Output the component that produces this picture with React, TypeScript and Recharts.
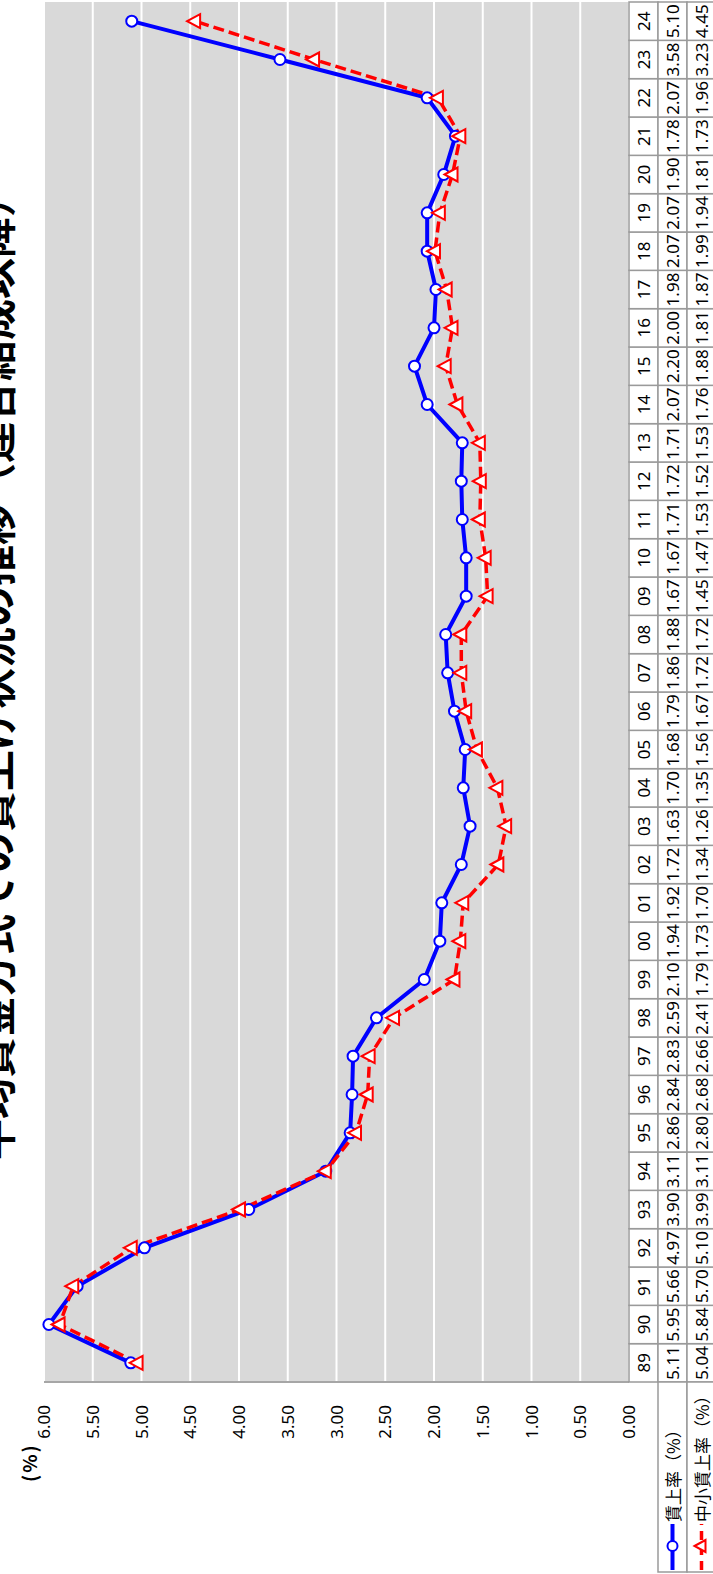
import { LineChart, Line, XAxis, YAxis, CartesianGrid } from "recharts";

const YEARS = [
  "89", "90", "91", "92", "93", "94", "95", "96", "97", "98", "99", "00",
  "01", "02", "03", "04", "05", "06", "07", "08", "09", "10", "11", "12",
  "13", "14", "15", "16", "17", "18", "19", "20", "21", "22", "23", "24",
];

// 賃上率（%）
const WAGE_RATE = [
  5.11, 5.95, 5.66, 4.97, 3.9, 3.11, 2.86, 2.84, 2.83, 2.59, 2.1, 1.94,
  1.92, 1.72, 1.63, 1.7, 1.68, 1.79, 1.86, 1.88, 1.67, 1.67, 1.71, 1.72,
  1.71, 2.07, 2.2, 2.0, 1.98, 2.07, 2.07, 1.9, 1.78, 2.07, 3.58, 5.1,
];

// 中小賃上率（%）
const SME_RATE = [
  5.04, 5.84, 5.7, 5.1, 3.99, 3.11, 2.8, 2.68, 2.66, 2.41, 1.79, 1.73,
  1.7, 1.34, 1.26, 1.35, 1.56, 1.67, 1.72, 1.72, 1.45, 1.47, 1.53, 1.52,
  1.53, 1.76, 1.88, 1.81, 1.87, 1.99, 1.94, 1.81, 1.73, 1.96, 3.23, 4.45,
];

const Y_TICKS = [0, 0.5, 1, 1.5, 2, 2.5, 3, 3.5, 4, 4.5, 5, 5.5, 6];

const TITLE = "平均賃金方式での賃上げ状況の推移（連合結成以降）";
const SERIES_NAMES = ["賃上率（%）", "中小賃上率（%）"];
const UNIT_LABEL = "(%)";

const data = YEARS.map((year, i) => ({
  year,
  wage: WAGE_RATE[i],
  sme: SME_RATE[i],
}));

// chart is laid out landscape, then turned a quarter to the left
const W = 1574;
const H = 713;
const PLOT_LEFT = 192;
const PLOT_RIGHT = 1572;
const PLOT_TOP = 44;
const PLOT_BOTTOM = 629;
const ROW = 29;
const BAND = (PLOT_RIGHT - PLOT_LEFT) / YEARS.length;

const BLUE = "#0000ff";
const RED = "#ff0000";
const BORDER = "#9a9a9a";
const FONT = "'Noto Sans', 'Noto Sans CJK JP', sans-serif";
const JP_FONT = "'Noto Sans CJK JP', sans-serif";

function TableTick(props: any) {
  const { x, payload } = props;
  const i = YEARS.indexOf(payload.value);
  const left = x - BAND / 2;
  const cells = [payload.value, WAGE_RATE[i].toFixed(2), SME_RATE[i].toFixed(2)];
  return (
    <g>
      {cells.map((txt, r) => {
        const top = PLOT_BOTTOM + r * ROW;
        return (
          <g key={r}>
            <rect x={left} y={top} width={BAND} height={ROW} fill="#fff" stroke={BORDER} strokeWidth={1.5} />
            <text
              x={x}
              y={top + ROW / 2}
              textAnchor="middle"
              dominantBaseline="central"
              fontSize={17}
              fontFamily={FONT}
              fill="#000"
            >
              {txt}
            </text>
          </g>
        );
      })}
    </g>
  );
}

function CircleDot(props: any) {
  const { cx, cy } = props;
  if (cx == null || cy == null) return null;
  return <circle cx={cx} cy={cy} r={5.5} fill="#fff" stroke={BLUE} strokeWidth={2} />;
}

function TriangleDot(props: any) {
  const { cx, cy } = props;
  if (cx == null || cy == null) return null;
  return (
    <path
      d={`M${cx},${cy - 8}L${cx + 7},${cy + 5}L${cx - 7},${cy + 5}Z`}
      fill="#fff"
      stroke={RED}
      strokeWidth={2}
    />
  );
}

function Overlay() {
  const rowTops = [PLOT_BOTTOM + ROW, PLOT_BOTTOM + 2 * ROW];
  return (
    <svg width={W} height={H} style={{ position: "absolute", left: 0, top: 0, pointerEvents: "none" }}>
      <text x={906} y={11} textAnchor="middle" fontSize={41} fontWeight="bold" fontFamily={JP_FONT} fill="#000">
        {TITLE}
      </text>
      <text x={92} y={37} fontSize={19} fontWeight="bold" fontFamily={JP_FONT} fill="#000" letterSpacing={2}>
        {UNIT_LABEL}
      </text>
      {SERIES_NAMES.map((name, r) => {
        const top = rowTops[r];
        const cy = top + ROW / 2;
        return (
          <g key={name}>
            <rect x={2} y={top} width={PLOT_LEFT - 2} height={ROW} fill="#fff" stroke={BORDER} strokeWidth={1.5} />
            {r === 0 ? (
              <>
                <line x1={4} y1={cy} x2={50} y2={cy} stroke={BLUE} strokeWidth={4} />
                <circle cx={28} cy={cy} r={5} fill="#fff" stroke={BLUE} strokeWidth={2} />
              </>
            ) : (
              <>
                <line x1={4} y1={cy} x2={50} y2={cy} stroke={RED} strokeWidth={3.5} strokeDasharray="9 6" />
                <path d={`M28,${cy - 7}L34,${cy + 4}L22,${cy + 4}Z`} fill="#fff" stroke={RED} strokeWidth={2} />
              </>
            )}
            <text x={52} y={cy} dominantBaseline="central" fontSize={17} fontFamily={JP_FONT} fill="#000">
              {name}
            </text>
          </g>
        );
      })}
    </svg>
  );
}

export default function App() {
  return (
    <div style={{ position: "absolute", left: 0, top: 0, width: H, height: W, overflow: "hidden", background: "#fff" }}>
      <div
        style={{
          position: "absolute",
          left: 0,
          top: 0,
          width: W,
          height: H,
          transformOrigin: "0 0",
          transform: `translateY(${W}px) rotate(-90deg)`,
        }}
      >
        <LineChart
          width={W}
          height={H}
          data={data}
          margin={{ top: PLOT_TOP, right: W - PLOT_RIGHT, bottom: 0, left: 0 }}
        >
          <CartesianGrid vertical={false} fill="#d9d9d9" stroke="#ffffff" strokeWidth={2} />
          <XAxis
            dataKey="year"
            scale="band"
            interval={0}
            tickLine={false}
            axisLine={false}
            height={H - PLOT_BOTTOM}
            tick={<TableTick />}
          />
          <YAxis
            type="number"
            domain={[0, 6]}
            ticks={Y_TICKS}
            width={PLOT_LEFT}
            tickLine={false}
            tickSize={0}
            tickMargin={23}
            axisLine={{ stroke: "#a6a6a6", strokeWidth: 2 }}
            tickFormatter={(v: number) => v.toFixed(2)}
            tick={{ fontSize: 17, fill: "#000", fontFamily: FONT }}
          />
          <Line
            dataKey="wage"
            name={SERIES_NAMES[0]}
            stroke={BLUE}
            strokeWidth={4}
            dot={<CircleDot />}
            isAnimationActive={false}
          />
          <Line
            dataKey="sme"
            name={SERIES_NAMES[1]}
            stroke={RED}
            strokeWidth={3.5}
            strokeDasharray="11 5"
            dot={<TriangleDot />}
            isAnimationActive={false}
          />
        </LineChart>
        <Overlay />
      </div>
    </div>
  );
}
